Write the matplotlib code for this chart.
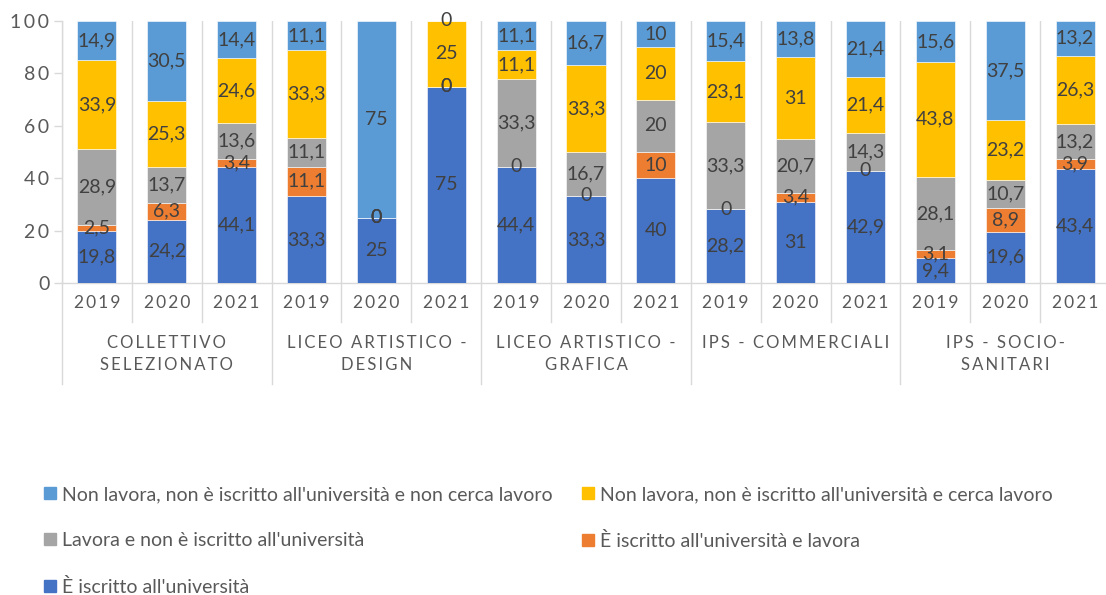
import matplotlib.pyplot as plt
import matplotlib.transforms as mtransforms
from matplotlib.patches import Patch

plt.rcParams['font.family'] = ['Lato', 'DejaVu Sans']

# categorie
groups = ['COLLETTIVO\nSELEZIONATO', 'LICEO ARTISTICO -\nDESIGN',
          'LICEO ARTISTICO -\nGRAFICA', 'IPS - COMMERCIALI',
          'IPS - SOCIO-\nSANITARI']
years = ['2019', '2020', '2021']

# valori percentuali (dal basso verso l'alto)
iscritto = [19.8, 24.2, 44.1, 33.3, 25, 75, 44.4, 33.3, 40, 28.2, 31, 42.9, 9.4, 19.6, 43.4]
iscritto_lavora = [2.5, 6.3, 3.4, 11.1, 0, 0, 0, 0, 10, 0, 3.4, 0, 3.1, 8.9, 3.9]
lavora = [28.9, 13.7, 13.6, 11.1, 0, 0, 33.3, 16.7, 20, 33.3, 20.7, 14.3, 28.1, 10.7, 13.2]
cerca = [33.9, 25.3, 24.6, 33.3, 0, 25, 11.1, 33.3, 20, 23.1, 31, 21.4, 43.8, 23.2, 26.3]
non_cerca = [14.9, 30.5, 14.4, 11.1, 75, 0, 11.1, 16.7, 10, 15.4, 13.8, 21.4, 15.6, 37.5, 13.2]

series = [
    ("È iscritto all'università", iscritto, '#4472C4'),
    ("È iscritto all'università e lavora", iscritto_lavora, '#ED7D31'),
    ("Lavora e non è iscritto all'università", lavora, '#A5A5A5'),
    ("Non lavora, non è iscritto all'università e cerca lavoro", cerca, '#FFC000'),
    ("Non lavora, non è iscritto all'università e non cerca lavoro", non_cerca, '#5B9BD5'),
]

TXT = '#595959'
GRID = '#D9D9D9'
THIN = '\u2009'


def spaced(s):
    # testo con spaziatura tra i caratteri
    return '\n'.join(THIN.join(line) for line in s.split('\n'))


fig = plt.figure(figsize=(11.06, 5.95), dpi=100)
ax = fig.add_axes([62 / 1106, 1 - 283 / 595, 1048 / 1106, 262 / 595])

x = list(range(len(iscritto)))
bottom = [0.0] * len(x)
for name, vals, color in series:
    ax.bar(x, vals, width=0.56, bottom=bottom, color=color,
           edgecolor='white', linewidth=0.4, label=name, zorder=3)
    for xi, b, v in zip(x, bottom, vals):
        ax.text(xi, b + v / 2, f"{v:g}".replace('.', ','), ha='center', va='center',
                fontsize=14, color='#404040', zorder=4)
    bottom = [b + v for b, v in zip(bottom, vals)]

ax.set_xlim(-0.5, len(x) - 0.5)
ax.set_ylim(0, 100)
ax.set_yticks(range(0, 101, 20), [spaced(str(v)) for v in range(0, 101, 20)])
ax.tick_params(axis='y', length=6, width=1, color=GRID, labelcolor=TXT,
               labelsize=14, pad=3)
ax.set_xticks([])
ax.set_xticks([i - 0.5 for i in range(len(x) + 1)], minor=True)
ax.tick_params(axis='x', which='minor', length=0)
ax.grid(axis='x', which='minor', color=GRID, linewidth=1, zorder=0)
for s in ['top', 'right']:
    ax.spines[s].set_visible(False)
for s in ['left', 'bottom']:
    ax.spines[s].set_color(GRID)
    ax.spines[s].set_linewidth(1)

# asse categorie su due livelli
trans = mtransforms.blended_transform_factory(ax.transData, ax.transAxes)
for k in range(len(x) + 1):
    y_end = -0.385 if k % 3 == 0 else -0.149
    ax.plot([k - 0.5, k - 0.5], [0, y_end], color=GRID, linewidth=1,
            transform=trans, clip_on=False)
for i in x:
    ax.text(i, -0.076, spaced(years[i % 3]), transform=trans, ha='center',
            va='center', fontsize=12.5, color=TXT)
for g, name in enumerate(groups):
    ax.text(3 * g + 1, -0.2, spaced(name), transform=trans, ha='center',
            va='top', fontsize=12, color=TXT, linespacing=1.4)

# legenda in due colonne
order = [4, 2, 0, 3, 1]
handles = [Patch(color=series[i][2]) for i in order]
labels = [series[i][0] for i in order]
fig.legend(handles, labels, loc='upper left', bbox_to_anchor=(44 / 1106, 1 - 486 / 595),
           ncol=2, frameon=False, fontsize=14, labelcolor=TXT,
           handlelength=0.6, handleheight=0.6, handletextpad=0.3,
           columnspacing=1.55, labelspacing=1.48, borderpad=0, borderaxespad=0)

fig.savefig('out.png', dpi=100)
